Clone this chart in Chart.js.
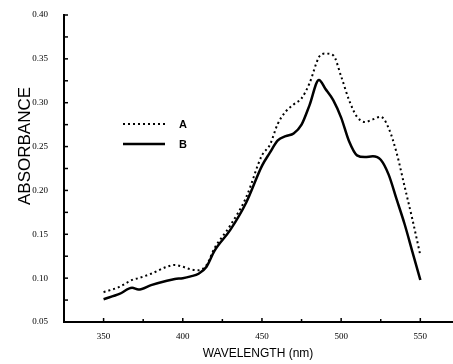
<!DOCTYPE html>
<html>
<head>
<meta charset="utf-8">
<script src="https://cdn.jsdelivr.net/npm/chart.js@4.4.1/dist/chart.umd.min.js"></script>
<style>
  html, body { margin: 0; padding: 0; background: #fff; }
  #wrap { width: 453px; height: 364px; position: relative; }
</style>
</head>
<body>
<div id="wrap"><canvas id="spectrumChart"></canvas></div>
<script>
// wavelengths (nm)
var wavelengths = [350, 360, 368, 372, 380, 390, 395, 400, 405, 410, 415, 420, 430, 440, 450, 455, 460, 465, 470, 475, 480, 486, 490, 495, 500, 505, 510, 515, 520, 525, 530, 535, 540, 545, 550];

// curve A (dotted)
var absorbanceA = [0.084, 0.090, 0.098, 0.100, 0.105, 0.113, 0.115, 0.113, 0.110, 0.109, 0.115, 0.134, 0.160, 0.192, 0.240, 0.252, 0.276, 0.290, 0.298, 0.305, 0.322, 0.352, 0.356, 0.354, 0.330, 0.303, 0.284, 0.278, 0.281, 0.284, 0.271, 0.243, 0.205, 0.167, 0.126];

// curve B (solid)
var absorbanceB = [0.076, 0.082, 0.089, 0.087, 0.092, 0.097, 0.099, 0.100, 0.102, 0.105, 0.113, 0.131, 0.155, 0.186, 0.228, 0.243, 0.257, 0.262, 0.265, 0.275, 0.297, 0.326, 0.316, 0.303, 0.283, 0.256, 0.240, 0.238, 0.239, 0.235, 0.218, 0.190, 0.162, 0.130, 0.098];

var seriesLabels = ['A', 'B'];
var yTickLabels = ['0.05', '0.10', '0.15', '0.20', '0.25', '0.30', '0.35', '0.40'];
var xTickLabels = ['350', '400', '450', '500', '550'];

function toPoints(xs, ys) {
    return xs.map(function(x, i) { return { x: x, y: ys[i] }; });
}

// small tick marks pointing into the plot, like the original figure
var inwardTicks = {
    id: 'inwardTicks',
    afterDraw: function(chart) {
        var ctx = chart.ctx;
        var xs = chart.scales.x, ys = chart.scales.y;
        var area = chart.chartArea;
        ctx.save();
        ctx.strokeStyle = '#000';
        ctx.lineWidth = 1.5;
        xs.ticks.forEach(function(t) {
            if (t.value % 25 !== 0 || t.value <= 325) return;
            var px = xs.getPixelForValue(t.value);
            ctx.beginPath();
            ctx.moveTo(px, area.bottom);
            ctx.lineTo(px, area.bottom - (t.value % 50 === 0 ? 4 : 3));
            ctx.stroke();
        });
        ys.ticks.forEach(function(t) {
            var py = ys.getPixelForValue(t.value);
            ctx.beginPath();
            ctx.moveTo(area.left, py);
            ctx.lineTo(area.left + 4, py);
            ctx.stroke();
        });
        ctx.restore();
    }
};

// y axis title sits a bit above the middle in the original
var yTitle = {
    id: 'yTitle',
    afterDraw: function(chart) {
        var ctx = chart.ctx;
        ctx.save();
        ctx.translate(25, 146);
        ctx.rotate(-Math.PI / 2);
        ctx.fillStyle = '#000';
        ctx.font = '17px "Liberation Sans", Arial, sans-serif';
        ctx.textAlign = 'center';
        ctx.textBaseline = 'middle';
        ctx.fillText('ABSORBANCE', 0, 0);
        ctx.restore();
    }
};

// legend placed inside the plot, left side
var innerLegend = {
    id: 'innerLegend',
    afterDraw: function(chart) {
        var ctx = chart.ctx;
        var x0 = 123, len = 42, y0 = 124, gap = 20;
        ctx.save();
        chart.data.datasets.forEach(function(ds, i) {
            var y = y0 + i * gap;
            ctx.strokeStyle = '#000';
            ctx.lineWidth = ds.borderWidth;
            ctx.setLineDash(ds.borderDash || []);
            ctx.beginPath();
            ctx.moveTo(x0, y);
            ctx.lineTo(x0 + len, y);
            ctx.stroke();
            ctx.setLineDash([]);
            ctx.fillStyle = '#000';
            ctx.font = 'bold 11px "Liberation Sans Narrow", "Liberation Sans", sans-serif';
            ctx.textBaseline = 'middle';
            ctx.fillText(ds.label, x0 + 56, y + 1);
        });
        ctx.restore();
    }
};

var ctx = document.getElementById('spectrumChart').getContext('2d');
var spectrumChart = new Chart(ctx, {
    type: 'line',
    data: {
        datasets: [{
            label: seriesLabels[0],
            data: toPoints(wavelengths, absorbanceA),
            borderColor: '#000',
            borderWidth: 2,
            borderDash: [2, 3],
            pointRadius: 0,
            cubicInterpolationMode: 'monotone',
            fill: false
        }, {
            label: seriesLabels[1],
            data: toPoints(wavelengths, absorbanceB),
            borderColor: '#000',
            borderWidth: 2.5,
            pointRadius: 0,
            cubicInterpolationMode: 'monotone',
            fill: false
        }]
    },
    options: {
        responsive: true,
        maintainAspectRatio: false,
        animation: false,
        layout: { padding: { top: 15, right: 1, left: 0, bottom: 0 } },
        plugins: {
            legend: { display: false },
            tooltip: { enabled: false }
        },
        scales: {
            x: {
                type: 'linear',
                min: 325,
                max: 570,
                grid: { display: false },
                border: { display: true, color: '#000', width: 2 },
                ticks: {
                    stepSize: 25,
                    autoSkip: false,
                    maxRotation: 0,
                    padding: 1,
                    color: '#000',
                    font: { family: '"Liberation Serif", serif', size: 9 },
                    callback: function(v) {
                        var s = String(v);
                        return xTickLabels.indexOf(s) >= 0 ? s : '';
                    }
                },
                title: {
                    display: true,
                    text: 'WAVELENGTH (nm)',
                    color: '#000',
                    font: { family: '"Liberation Sans Narrow", "Liberation Sans", sans-serif', size: 12 },
                    padding: { top: 0, bottom: 3 }
                },
                afterFit: function(scale) { scale.height = 42; }
            },
            y: {
                min: 0.05,
                max: 0.40,
                grid: { display: false },
                border: { display: true, color: '#000', width: 2 },
                ticks: {
                    stepSize: 0.025,
                    autoSkip: false,
                    padding: 8,
                    color: '#000',
                    font: { family: '"Liberation Serif", serif', size: 9 },
                    callback: function(v) {
                        var s = v.toFixed(2);
                        return (Math.round(v * 1000) % 50 === 0 && yTickLabels.indexOf(s) >= 0) ? s : '';
                    }
                },
                afterFit: function(scale) { scale.width = 64; }
            }
        }
    },
    plugins: [inwardTicks, yTitle, innerLegend]
});
</script>
</body>
</html>
